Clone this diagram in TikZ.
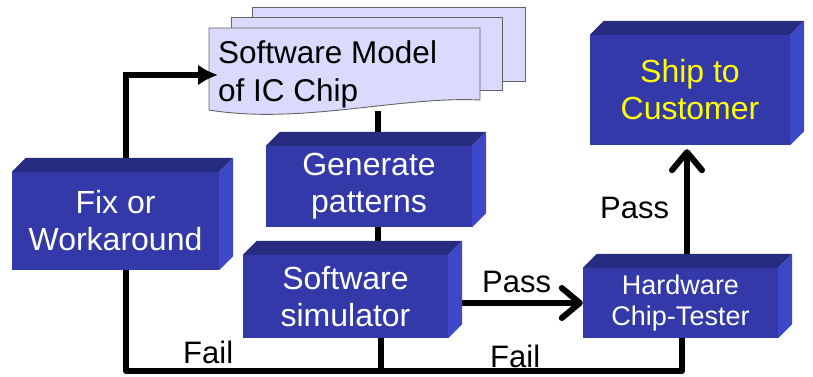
\documentclass[tikz,border=0pt]{standalone}
\usepackage{fontspec}
\setmainfont{Liberation Sans}
\usetikzlibrary{arrows.meta, math}
\definecolor{boxfront}{RGB}{51,57,168}
\definecolor{boxtop}{RGB}{40,44,128}
\definecolor{boxside}{RGB}{60,72,200}
\definecolor{paper}{RGB}{218,218,252}
\definecolor{papergray}{RGB}{100,100,100}

\tikzset{
  block/.style={fill=boxfront, text=white, inner sep=0, align=center,
    font=\fontsize{32}{37}\selectfont},
  wire/.style={line width=6pt},
  tag/.style={anchor=base west, inner sep=0, font=\fontsize{31}{37}\selectfont},
  page/.style={fill=paper, draw=papergray, line width=0.9pt},
}

\begin{document}
\begin{tikzpicture}[x=1pt,y=-1pt]
\tikzmath{
\d=14;
}
\useasboundingbox (0,0) rectangle (813,377);

% the model, as a stack of pages
\draw[page] (252,7) rectangle (525,81);
\draw[page] (231,17) rectangle (502,90);
\draw[page] (209,28) -- (480,28) -- (480,100) .. controls (400,96) and (300,125) .. (209,110) -- cycle;
\node[anchor=north west, inner sep=0, align=left, font=\fontsize{31.5}{38}\selectfont] (doc) at (218,40) {Software Model\\of IC Chip};

\node[block, minimum width=207pt, minimum height=98pt] (fix) at (115.5,221) {Fix or\\Workaround};
\node[block, minimum width=206pt, minimum height=81pt] (gen) at (369,186.5) {Generate\\patterns};
\node[block, minimum width=205pt, minimum height=83pt] (sim) at (345.5,296.5) {Software\\simulator};
\node[block, minimum width=200pt, minimum height=110pt, text={rgb,255:red,255;green,255;blue,0}] (ship) at (690,90) {Ship to\\Customer};
\node[block, minimum width=195pt, minimum height=70pt, font=\fontsize{27}{31}\selectfont] (hw) at (680.5,303) {Hardware\\Chip-Tester};

\coordinate (docfoot) at (378,111);
\coordinate (loopT) at (126,75);
\coordinate (loopB) at (126,371);
\coordinate (simfoot) at (381,371);
\coordinate (failR) at (682,371);
\coordinate (upx) at (687,0);

\draw[wire] (docfoot) -- (gen.north -| docfoot);
\draw[wire] (gen.south -| docfoot) -- (sim.north -| docfoot);
\draw[wire, -{Latex[length=20pt,width=21pt]}] (fix.north -| loopT) -- (loopT) -- (loopT -| doc.west);
\draw[wire, line join=round] (fix.south -| loopB) -- (loopB) -- (failR) -- (failR |- hw.south);
\draw[wire] (sim.south -| simfoot) -- (simfoot);
\draw[wire, -{Straight Barb[length=18pt,width=30pt,round]}] (sim.east |- hw.west) -- (hw.west);
\draw[wire, shorten >=4pt, -{Straight Barb[length=18pt,width=30pt,round]}] (hw.north -| upx) -- (ship.south -| upx);

% bevels of the blocks
\foreach \n in {fix,gen,sim,ship,hw}{
  \fill[boxtop] (\n.north west) -- ++(\d,-\d) -- ([shift={(\d,-\d)}]\n.north east) -- (\n.north east) -- cycle;
  \fill[boxside] (\n.north east) -- ++(\d,-\d) -- ([shift={(\d,-\d)}]\n.south east) -- (\n.south east) -- cycle;
}

\node[tag] (passA) at (482,292) {Pass};
\node[tag] (passB) at (600,218) {Pass};
\node[tag] (failA) at (183,363) {Fail};
\node[tag] (failB) at (490,367) {Fail};
\end{tikzpicture}
\end{document}
